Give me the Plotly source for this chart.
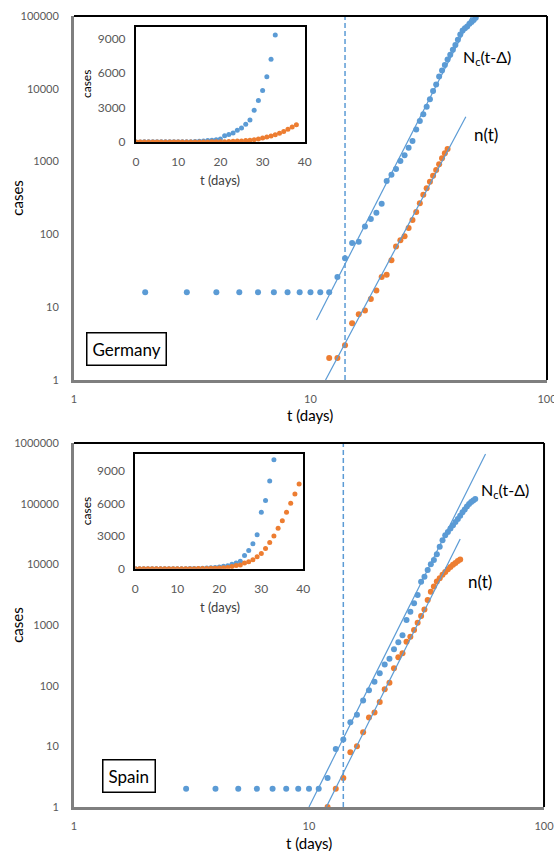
import plotly.graph_objects as go

# ---------------- data ----------------
# Germany, main log-log panel
de_blue_t = [2, 3, 4, 5, 6, 7, 8, 9, 10, 11, 12, 13, 14, 15, 16, 17, 18, 19, 20, 21, 22, 23, 24, 25,
             26, 27, 28, 29, 30, 31, 32, 33, 34, 35, 36, 37, 38, 39, 40, 41, 42, 43, 44, 45, 46, 47,
             48, 49, 50]
de_blue = [16, 16, 16, 16, 16, 16, 16, 16, 16, 16, 16, 26, 47, 76, 79, 128, 163, 198, 264, 540, 660,
           790, 1020, 1220, 1550, 1920, 2750, 3610, 4470, 5680, 7200, 9300, 11500, 14700, 17900,
           21300, 25300, 29300, 34500, 40000, 47000, 55700, 63000, 68000, 71600, 78000, 82700,
           88000, 94500]
de_orange_t = [12, 13, 14, 15, 16, 17, 18, 19, 20, 21, 22, 23, 24, 25, 26, 27, 28, 29, 30, 31, 32,
               33, 34, 35, 36, 37, 38]
de_orange = [2, 2, 3, 6, 8, 9, 13, 17, 26, 28, 44, 68, 83, 94, 122, 158, 203, 267, 351, 430, 530,
             640, 767, 918, 1110, 1300, 1490]
de_fit_blue_t = [10.6, 48.1]
de_fit_blue = [6.67, 100000]
de_fit_orange_t = [11.58, 45.4]
de_fit_orange = [1, 4140]

# Germany, linear inset
de_in_blue_t = list(range(0, 34))
de_in_blue = [0, 0, 16, 16, 16, 16, 16, 16, 16, 16, 16, 16, 16, 26, 47, 76, 79, 128, 163, 198, 264,
              540, 660, 790, 1020, 1220, 1550, 1920, 2750, 3610, 4470, 5680, 7200, 9300]
de_in_orange_t = list(range(0, 39))
de_in_orange = [0, 0, 0, 0, 0, 0, 0, 0, 0, 0, 0, 0, 2, 2, 3, 6, 8, 9, 13, 17, 26, 28, 44, 68, 83,
                94, 122, 158, 203, 267, 351, 430, 530, 640, 767, 918, 1110, 1300, 1490]

# Spain, main log-log panel
es_blue_t = [3, 4, 5, 6, 7, 8, 9, 10, 11, 12, 13, 14, 15, 16, 17, 18, 19, 20, 21, 22, 23, 24, 25,
             26, 27, 28, 29, 30, 31, 32, 33, 34, 35, 36, 37, 38, 39, 40, 41, 42, 43, 44, 45, 46, 47,
             48, 49, 50, 51]
es_blue = [2, 2, 2, 2, 2, 2, 2, 2, 2, 3, 9, 13, 25, 33, 57, 84, 116, 160, 224, 278, 398, 520, 680,
           1210, 1660, 2280, 3110, 5170, 6250, 8060, 10000, 11800, 14600, 19500, 25000, 30000,
           34000, 39000, 44000, 50000, 56000, 63000, 72000, 80000, 90000, 99000, 106000, 113000,
           119000]
es_orange_t = [12, 13, 14, 15, 16, 17, 18, 19, 20, 21, 22, 23, 24, 25, 26, 27, 28, 29, 30, 31, 32,
               33, 34, 35, 36, 37, 38, 39, 40, 41, 42, 43, 44]
es_orange = [1, 2, 3, 8, 10, 17, 30, 36, 54, 87, 112, 193, 293, 341, 530, 641, 827, 1090, 1400,
             1800, 2580, 3540, 4300, 5200, 5900, 6700, 7500, 8300, 9000, 9800, 10500, 11300, 12000]
es_fit_blue_t = [10.0, 56.4]
es_fit_blue = [1, 658000]
es_fit_orange_t = [11.85, 44.0]
es_fit_orange = [1, 26100]

# Spain, linear inset
es_in_blue_t = list(range(0, 34))
es_in_blue = [0, 0, 0, 2, 2, 2, 2, 2, 2, 2, 2, 2, 3, 9, 13, 25, 33, 57, 84, 116, 160, 224, 278, 398,
              520, 680, 1210, 1660, 2280, 3110, 5170, 6250, 8060, 10000]
es_in_orange_t = list(range(0, 40))
es_in_orange = [0, 0, 0, 0, 0, 0, 0, 0, 0, 0, 0, 0, 1, 2, 3, 8, 10, 17, 30, 36, 54, 87, 112, 193,
                293, 341, 530, 641, 827, 1090, 1400, 1850, 2400, 3000, 3710, 4410, 5180, 6000,
                6860, 7780]

delay_t = 14  # dashed vertical marker

log_x_ticks = [1, 10, 100]
log_x_text = ["1", "10", "100"]
de_y_ticks = [1, 10, 100, 1000, 10000, 100000]
de_y_text = ["1", "10", "100", "1000", "10000", "100000"]
es_y_ticks = [1, 10, 100, 1000, 10000, 100000, 1000000]
es_y_text = ["1", "10", "100", "1000", "10000", "100000", "1000000"]
in_x_ticks = [0, 10, 20, 30, 40]
in_y_ticks = [0, 3000, 6000, 9000]

# ---------------- style ----------------
BLUE = "#5B9BD5"
ORANGE = "#ED7D31"
FONT = "Lato"
TICKC = "#595959"

fig = go.Figure()


def pts(x, y, color, xa, ya, size=6):
    fig.add_trace(go.Scatter(x=x, y=y, mode="markers", xaxis=xa, yaxis=ya,
                             marker=dict(color=color, size=size, line=dict(width=0)),
                             hoverinfo="x+y"))


def line(x, y, xa, ya, dash=None, width=1.2):
    fig.add_trace(go.Scatter(x=x, y=y, mode="lines", xaxis=xa, yaxis=ya,
                             line=dict(color=BLUE, width=width, dash=dash), hoverinfo="skip"))


# Germany main
pts(de_blue_t, de_blue, BLUE, "x", "y")
pts(de_orange_t, de_orange, ORANGE, "x", "y")
line(de_fit_blue_t, de_fit_blue, "x", "y")
line(de_fit_orange_t, de_fit_orange, "x", "y")
line([delay_t, delay_t], [de_y_ticks[0], de_y_ticks[-1]], "x", "y", dash="5px,3px", width=1.5)
# Spain main
pts(es_blue_t, es_blue, BLUE, "x2", "y2")
pts(es_orange_t, es_orange, ORANGE, "x2", "y2")
line(es_fit_blue_t, es_fit_blue, "x2", "y2")
line(es_fit_orange_t, es_fit_orange, "x2", "y2")
line([delay_t, delay_t], [es_y_ticks[0], es_y_ticks[-1]], "x2", "y2", dash="5px,3px", width=1.5)
# insets
pts(de_in_blue_t, de_in_blue, BLUE, "x3", "y3", size=5)
pts(de_in_orange_t, de_in_orange, ORANGE, "x3", "y3", size=5)
pts(es_in_blue_t, es_in_blue, BLUE, "x4", "y4", size=5)
pts(es_in_orange_t, es_in_orange, ORANGE, "x4", "y4", size=5)

main_x = dict(type="log", range=[0, 2.0002], tickvals=log_x_ticks,
              ticktext=log_x_text, ticklabeloverflow="allow",
              showline=True, linecolor="#7F7F7F", linewidth=3, showgrid=False, zeroline=False,
              ticks="", tickfont=dict(family=FONT, size=11, color=TICKC), ticklabelstandoff=7,
              automargin=False)
main_y = dict(type="log", showline=True, linecolor="#7F7F7F", linewidth=3, showgrid=False,
              zeroline=False, ticks="", tickfont=dict(family=FONT, size=11, color=TICKC),
              ticklabelstandoff=10, automargin=False)
in_x = dict(range=[0, 40], tickvals=in_x_ticks, showline=True, mirror=True, linecolor="black",
            linewidth=2, showgrid=False, zeroline=False, ticks="",
            tickfont=dict(family=FONT, size=12, color=TICKC), ticklabelstandoff=8,
            automargin=False)
in_y = dict(tickvals=in_y_ticks, showline=True, mirror=True, linecolor="black", linewidth=2,
            showgrid=False, zeroline=False, ticks="",
            tickfont=dict(family=FONT, size=12, color=TICKC), ticklabelstandoff=6,
            automargin=False)

fig.update_layout(
    width=554, height=851,
    margin=dict(l=74, r=7, t=16, b=44, autoexpand=False),
    paper_bgcolor="white", plot_bgcolor="white",
    showlegend=False,
    font=dict(family=FONT, color="black"),
    xaxis=dict(main_x, anchor="y", domain=[0, 1]),
    yaxis=dict(main_y, anchor="x", type="log", range=[0, 5], domain=[0.5398, 1],
               tickvals=de_y_ticks, ticktext=de_y_text),
    xaxis2=dict(main_x, anchor="y2", domain=[0, 0.9937]),
    yaxis2=dict(main_y, anchor="x2", type="log", range=[0, 6], domain=[0, 0.4602],
                tickvals=es_y_ticks, ticktext=es_y_text),
    xaxis3=dict(in_x, anchor="y3", domain=[0.131, 0.488]),
    yaxis3=dict(in_y, anchor="x3", range=[0, 10000], domain=[0.8407, 0.9861]),
    xaxis4=dict(in_x, anchor="y4", domain=[0.1297, 0.4848]),
    yaxis4=dict(in_y, anchor="x4", range=[0, 10530], domain=[0.3013, 0.4463]),
)

shapes = []
for xr, yr in (("x domain", "y domain"), ("x2 domain", "y2 domain")):
    shapes.append(dict(type="line", xref=xr, yref=yr, x0=0, x1=1, y0=1, y1=1,
                       line=dict(color="black", width=2)))
    shapes.append(dict(type="line", xref=xr, yref=yr, x0=1, x1=1, y0=0, y1=1,
                       line=dict(color="black", width=2)))
fig.update_layout(shapes=shapes)


def ann(text, x, y, size, angle=0, color="black", box=False):
    d = dict(text=text, x=x, y=y, xref="paper", yref="paper", showarrow=False,
             xanchor="center", yanchor="middle", textangle=angle,
             font=dict(family=FONT, size=size, color=color))
    if box:
        d.update(bordercolor="black", borderwidth=1.5, borderpad=5, bgcolor="white")
    return d


annotations = [
    ann("cases", -0.121, 0.770, 15, angle=-90),
    ann("cases", -0.121, 0.230, 15, angle=-90),
    ann("t (days)", 0.499, 0.4955, 15),
    ann("t (days)", 0.497, -0.0455, 15),
    ann("cases", 0.0254, 0.914, 12, angle=-90),
    ann("cases", 0.0254, 0.374, 12, angle=-90),
    ann("t (days)", 0.3087, 0.7927, 13, color="#404040"),
    ann("t (days)", 0.3087, 0.2529, 13, color="#404040"),
    ann("Germany", 0.111, 0.5784, 17, box=True),
    ann("Spain", 0.1163, 0.0398, 17, box=True),
    ann("N<sub>c</sub>(t-Δ)", 0.874, 0.948, 16),
    ann("n(t)", 0.872, 0.8496, 17),
    ann("N<sub>c</sub>(t-Δ)", 0.911, 0.3995, 16),
    ann("n(t)", 0.859, 0.2845, 17),
]
fig.update_layout(annotations=annotations)

fig.write_html("out.html", config={"displayModeBar": False},
               post_script="document.body.style.margin='0';document.body.style.padding='0';")
